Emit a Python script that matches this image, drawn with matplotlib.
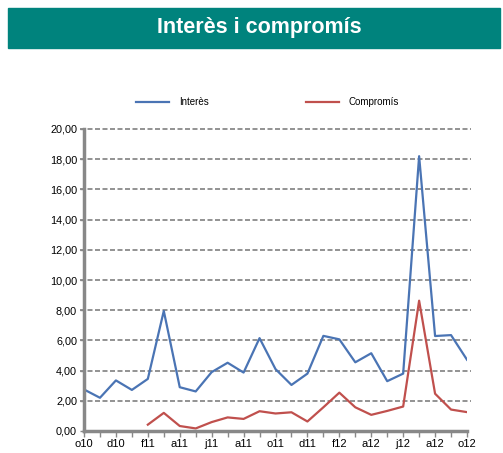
import numpy as np
import matplotlib
matplotlib.use("Agg")
import matplotlib.pyplot as plt
from matplotlib.patches import Rectangle

# monthly data, oct 2010 - oct 2012
mesos = ["o10", "n10", "d10", "g11", "f11", "m11", "a11", "m11", "j11", "j11", "a11", "s11",
         "o11", "n11", "d11", "g12", "f12", "m12", "a12", "m12", "j12", "j12", "a12", "s12", "o12"]
interes = [2.75, 2.2, 3.35, 2.72, 3.45, 7.95, 2.9, 2.62, 3.9, 4.52, 3.87, 6.15,
           4.1, 3.05, 3.8, 6.3, 6.07, 4.55, 5.15, 3.3, 3.8, 18.2, 6.29, 6.35, 4.72]
compromis = [np.nan, np.nan, np.nan, np.nan, 0.42, 1.2, 0.33, 0.17, 0.59, 0.9, 0.8, 1.31,
             1.16, 1.24, 0.63, 1.57, 2.54, 1.57, 1.07, 1.33, 1.62, 8.63, 2.47, 1.42, 1.25]

fig = plt.figure(figsize=(5.03, 4.53), dpi=100)
plt.rcParams['font.family'] = ['Liberation Sans', 'DejaVu Sans']

# title banner
fig.patches.append(Rectangle((8 / 503, 1 - 48 / 453), 492 / 503, 40 / 453,
                             transform=fig.transFigure, color="#00837d", zorder=0))
fig.text(0.515, 1 - 28 / 453, "Interès i compromís", color="white", fontsize=15.5,
         fontweight="bold", ha="center", va="center")

ax = fig.add_axes([84 / 503, 1 - 431 / 453, 383 / 503, 302 / 453])
x = np.arange(len(mesos))
ax.plot(x, interes, color="#4a74b4", lw=1.6, label="Interès")
ax.plot(x, compromis, color="#c0504d", lw=1.6, label="Compromís")

ax.set_xlim(0, len(mesos) - 1)
ax.set_ylim(0, 20)
ax.set_yticks(np.arange(0, 21, 2))
ax.set_yticklabels([f"{v:.2f}".replace(".", ",") for v in np.arange(0, 21, 2)], fontsize=7.8)
ax.set_xticks(x)
ax.set_xticklabels([m if i % 2 == 0 else "" for i, m in enumerate(mesos)], fontsize=8)
ax.tick_params(axis="x", length=4, width=1, color="#888888", pad=2)
ax.tick_params(axis="y", length=3, width=1, color="#888888", pad=2)

for v in np.arange(2, 21, 2):
    ax.axhline(v, color="#808080", lw=1.2, ls=(0, (3, 1.5)), zorder=0, clip_on=False,
               xmin=-0.01, xmax=1.01)

for s in ["top", "right"]:
    ax.spines[s].set_visible(False)
for s in ["left", "bottom"]:
    ax.spines[s].set_color("#888888")
    ax.spines[s].set_linewidth(2.5)

ax.legend(loc="center", bbox_to_anchor=(0.532, 1 - 102 / 453), bbox_transform=fig.transFigure,
          ncol=2, frameon=False, fontsize=7, columnspacing=10, handlelength=3.4,
          handletextpad=1.0)

fig.savefig("out.png", dpi=100)
